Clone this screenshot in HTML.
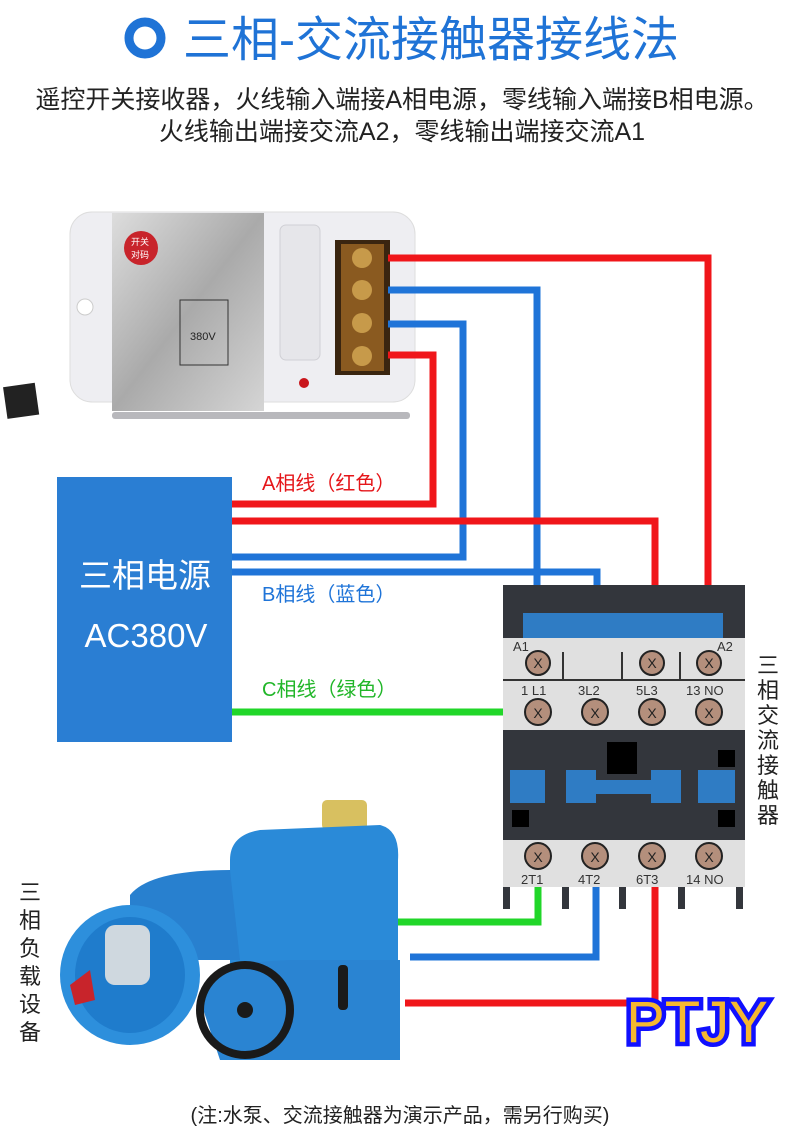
<!DOCTYPE html>
<html><head><meta charset="utf-8"><style>
html,body{margin:0;padding:0;background:#fff}
svg{display:block}
text{font-family:"Liberation Sans","Noto Sans CJK SC",sans-serif}
</style></head><body>
<svg width="800" height="1138" viewBox="0 0 800 1138" xmlns="http://www.w3.org/2000/svg">
<rect width="800" height="1138" fill="#fff"/>
<!-- title -->
<circle cx="145" cy="38" r="16" fill="none" stroke="#1f73d6" stroke-width="9"/>
<text x="183" y="56" font-size="48" fill="#1f73d6">三相-交流接触器接线法</text>
<text x="402" y="108" font-size="25" fill="#222" text-anchor="middle">遥控开关接收器，火线输入端接A相电源，零线输入端接B相电源。</text>
<text x="402" y="140" font-size="25" fill="#222" text-anchor="middle">火线输出端接交流A2，零线输出端接交流A1</text>

<!-- receiver -->
<defs><linearGradient id="g1" x1="0" x2="1" y1="0" y2="1"><stop offset="0" stop-color="#ddd"/><stop offset=".5" stop-color="#aaa"/><stop offset="1" stop-color="#d5d5d5"/></linearGradient></defs>
<rect x="70" y="212" width="345" height="190" rx="22" fill="#eeeef2" stroke="#ddd"/>
<circle cx="85" cy="307" r="8" fill="#fff" stroke="#ccc"/>
<rect x="112" y="213" width="152" height="198" fill="url(#g1)"/>
<circle cx="141" cy="248" r="17" fill="#c8242b"/>
<text x="131" y="245" font-size="9" fill="#fff">开关</text>
<text x="131" y="258" font-size="9" fill="#fff">对码</text>
<rect x="180" y="300" width="48" height="65" fill="none" stroke="#333"/>
<text x="190" y="340" font-size="11" fill="#222">380V</text>
<rect x="280" y="225" width="40" height="135" rx="6" fill="#e6e6ea" stroke="#d0d0d5"/>
<circle cx="304" cy="383" r="5" fill="#c9161c"/>
<rect x="335" y="240" width="55" height="135" fill="#3a2510"/>
<rect x="341" y="244" width="43" height="127" fill="#8a5a20"/>
<g fill="#c79a4a"><circle cx="362" cy="258" r="10"/><circle cx="362" cy="290" r="10"/><circle cx="362" cy="323" r="10"/><circle cx="362" cy="356" r="10"/></g>
<rect x="112" y="412" width="298" height="7" rx="3" fill="#b8b8bc"/>
<rect x="5" y="385" width="32" height="32" fill="#222" transform="rotate(-8 20 400)"/>

<!-- wires -->
<g fill="none" stroke-width="7" stroke-linejoin="miter">
<polyline points="388,258 708,258 708,660" stroke="#f0161a"/>
<polyline points="388,290 537,290 537,662" stroke="#1f74d8"/>
<polyline points="388,324 463,324 463,557 232,557" stroke="#1f74d8"/>
<polyline points="388,355 433,355 433,504 232,504" stroke="#f0161a"/>
<polyline points="232,521 655,521 655,712" stroke="#f0161a"/>
<polyline points="232,572 597,572 597,712" stroke="#1f74d8"/>
<polyline points="232,712 538,712" stroke="#21d629"/>
<polyline points="538,858 538,922 395,922" stroke="#21d629"/>
<polyline points="596,858 596,957 410,957" stroke="#1f74d8"/>
<polyline points="655,858 655,1003 405,1003" stroke="#f0161a"/>
</g>
<text x="262" y="490" font-size="20" fill="#e5161a">A相线（红色）</text>
<text x="262" y="601" font-size="20" fill="#1f74d8">B相线（蓝色）</text>
<text x="262" y="696" font-size="20" fill="#21b629">C相线（绿色）</text>

<!-- power box -->
<rect x="57" y="477" width="175" height="265" fill="#2a7ed3"/>
<text x="145" y="587" font-size="33" fill="#fff" text-anchor="middle">三相电源</text>
<text x="146" y="647" font-size="33" fill="#fff" text-anchor="middle">AC380V</text>

<!-- contactor -->
<rect x="503" y="585" width="242" height="53" fill="#33363c"/>
<rect x="523" y="613" width="200" height="25" fill="#2f7cc4"/>
<rect x="503" y="638" width="242" height="92" fill="#e0e0e0"/>
<line x1="503" y1="680" x2="745" y2="680" stroke="#333" stroke-width="2"/>
<g stroke="#333" stroke-width="2"><line x1="563" y1="652" x2="563" y2="680"/><line x1="622" y1="652" x2="622" y2="680"/><line x1="680" y1="652" x2="680" y2="680"/></g>
<rect x="503" y="730" width="242" height="110" fill="#33363c"/>
<rect x="607" y="742" width="30" height="32" fill="#000"/>
<rect x="718" y="750" width="17" height="17" fill="#000"/>
<rect x="512" y="810" width="17" height="17" fill="#000"/>
<rect x="718" y="810" width="17" height="17" fill="#000"/>
<rect x="510" y="770" width="35" height="33" fill="#2f7cc4"/>
<rect x="566" y="770" width="30" height="33" fill="#2f7cc4"/>
<rect x="596" y="780" width="55" height="14" fill="#2f7cc4"/>
<rect x="651" y="770" width="30" height="33" fill="#2f7cc4"/>
<rect x="698" y="770" width="37" height="33" fill="#2f7cc4"/>
<rect x="503" y="840" width="242" height="47" fill="#e0e0e0"/>
<g fill="#33363c"><rect x="503" y="887" width="7" height="22"/><rect x="562" y="887" width="7" height="22"/><rect x="619" y="887" width="7" height="22"/><rect x="678" y="887" width="7" height="22"/><rect x="736" y="887" width="7" height="22"/></g>
<g fill="#b48f7c" stroke="#222" stroke-width="2">
<circle cx="538" cy="663" r="12"/><circle cx="652" cy="663" r="12"/><circle cx="709" cy="663" r="12"/>
<circle cx="538" cy="712" r="13"/><circle cx="595" cy="712" r="13"/><circle cx="652" cy="712" r="13"/><circle cx="709" cy="712" r="13"/>
<circle cx="538" cy="856" r="13"/><circle cx="595" cy="856" r="13"/><circle cx="652" cy="856" r="13"/><circle cx="709" cy="856" r="13"/>
</g>
<g font-size="14" fill="#222" text-anchor="middle">
<text x="538" y="668">X</text><text x="652" y="668">X</text><text x="709" y="668">X</text>
<text x="538" y="718">X</text><text x="595" y="718">X</text><text x="652" y="718">X</text><text x="709" y="718">X</text>
<text x="538" y="862">X</text><text x="595" y="862">X</text><text x="652" y="862">X</text><text x="709" y="862">X</text>
</g>
<g font-size="13" fill="#333">
<text x="513" y="651">A1</text><text x="717" y="651">A2</text>
<text x="521" y="695">1 L1</text><text x="578" y="695">3L2</text><text x="636" y="695">5L3</text><text x="686" y="695">13 NO</text>
<text x="521" y="884">2T1</text><text x="578" y="884">4T2</text><text x="636" y="884">6T3</text><text x="686" y="884">14 NO</text>
</g>
<g font-size="22" fill="#222" text-anchor="middle">
<text x="768" y="673">三</text><text x="768" y="698">相</text><text x="768" y="723">交</text><text x="768" y="748">流</text><text x="768" y="773">接</text><text x="768" y="798">触</text><text x="768" y="823">器</text>
</g>

<!-- motor -->
<rect x="322" y="800" width="45" height="30" rx="5" fill="#d8c060"/>
<path d="M230 860 Q230 835 260 830 L380 825 Q400 830 398 860 L398 1040 L230 1045 Z" fill="#2a8ad8"/>
<path d="M130 895 Q150 870 230 870 L240 960 L130 960 Z" fill="#2880cf"/>
<ellipse cx="130" cy="975" rx="70" ry="70" fill="#2d8fdc"/>
<ellipse cx="130" cy="975" rx="55" ry="58" fill="#1f7ccc"/>
<rect x="105" y="925" width="45" height="60" rx="10" fill="#cfd8df"/>
<path d="M70 985 L90 970 L95 1000 L75 1005 Z" fill="#c8242b"/>
<path d="M200 1000 Q200 960 300 960 L400 960 L400 1060 L220 1060 Z" fill="#2a84d2"/>
<circle cx="245" cy="1010" r="45" fill="none" stroke="#1a1a1a" stroke-width="8"/>
<circle cx="245" cy="1010" r="8" fill="#1a1a1a"/>
<rect x="338" y="965" width="10" height="45" rx="4" fill="#1a1a1a"/>
<g font-size="22" fill="#222" text-anchor="middle">
<text x="30" y="900">三</text><text x="30" y="928">相</text><text x="30" y="956">负</text><text x="30" y="984">载</text><text x="30" y="1012">设</text><text x="30" y="1040">备</text>
</g>

<!-- PTJY -->
<text x="697" y="1042" font-size="58" fill="#f5b830" stroke="#1010ff" stroke-width="9" paint-order="stroke" text-anchor="middle">PTJY</text>

<text x="400" y="1122" font-size="20" fill="#222" text-anchor="middle">(注:水泵、交流接触器为演示产品，需另行购买)</text>
</svg>
</body></html>
